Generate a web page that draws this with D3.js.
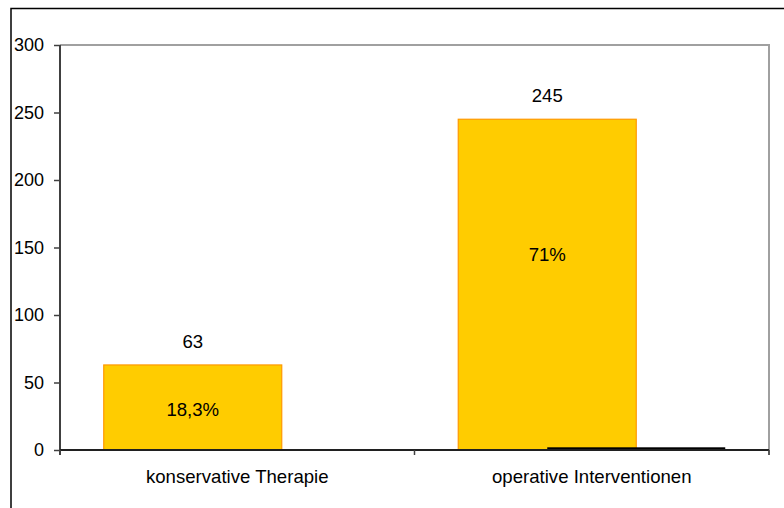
<!DOCTYPE html>
<html><head><meta charset="utf-8">
<script src="https://cdn.jsdelivr.net/npm/d3@7"></script>
<style>body{margin:0;background:#fff}svg{display:block;font-family:"Liberation Sans",Arial,sans-serif}</style>
</head><body>
<script>
const categories = ["konservative Therapie", "operative Interventionen"];
const seriesMain = [63, 245];
const seriesSecond = [0, 2];
const percentLabels = ["18,3%", "71%"];
const percentLabelAt = [25, 140];
const yTicks = [0, 50, 100, 150, 200, 250, 300];

const W = 784, H = 508;
const FS = 18.6;
const svg = d3.select("body").append("svg").attr("width", W).attr("height", H);

// outer frame (right/bottom edges beyond view)
svg.append("path").attr("d", "M11,520V8.5H800").attr("fill", "none").attr("stroke", "#000").attr("stroke-width", 1.5);

const L = 60, R = 769, T = 45, B = 450;
const x = d3.scaleBand().domain(categories).range([L, R]);
const y = d3.scaleLinear().domain([0, 300]).range([B, T]);

// plot border top/right
svg.append("path").attr("d", `M${L},${T}H${R}V${B + 5}`).attr("fill", "none").attr("stroke", "#a0a0a0").attr("stroke-width", 2);

const bw = 178;
const offset = 44.5;
const g = svg.append("g");
g.selectAll("rect.main").data(categories).join("rect")
  .attr("x", d => x(d) + x.bandwidth() / 2 - offset - bw / 2)
  .attr("y", (d, i) => y(seriesMain[i]))
  .attr("width", bw)
  .attr("height", (d, i) => y(0) - y(seriesMain[i]))
  .attr("fill", "#FFCC00").attr("stroke", "#FF9900").attr("stroke-width", 1.2);
g.selectAll("rect.second").data(categories).join("rect")
  .attr("x", d => x(d) + x.bandwidth() / 2 + offset - bw / 2)
  .attr("y", (d, i) => y(seriesSecond[i]))
  .attr("width", bw)
  .attr("height", (d, i) => y(0) - y(seriesSecond[i]))
  .attr("fill", "#000");

// y axis
const ya = svg.append("g").attr("transform", `translate(${L},0)`)
  .call(d3.axisLeft(y).tickValues(yTicks).tickSize(6).tickPadding(10));
ya.select(".domain").attr("d", `M0,${T}V${B + 5}`).attr("stroke", "#404040").attr("stroke-width", 2);
ya.selectAll(".tick line").attr("stroke", "#404040").attr("stroke-width", 1.5);
ya.selectAll("text").attr("font-size", 18).attr("fill", "#000").attr("font-family", "Liberation Sans, Arial, sans-serif");

// x axis
const xa = svg.append("g").attr("transform", `translate(0,${B})`)
  .call(d3.axisBottom(x).tickSize(0).tickPadding(20));
xa.select(".domain").attr("d", `M${L},0H${R}`).attr("stroke", "#202020").attr("stroke-width", 2);
xa.selectAll("text").attr("font-size", FS).attr("fill", "#000").attr("font-family", "Liberation Sans, Arial, sans-serif");
svg.append("g").selectAll("line").data([L, (L + R) / 2, R]).join("line")
  .attr("x1", d => d).attr("x2", d => d).attr("y1", B).attr("y2", B + 5)
  .attr("stroke", "#404040").attr("stroke-width", 1.5);

// value labels
const cx = d => x(d) + x.bandwidth() / 2 - offset;
svg.append("g").selectAll("text").data(categories).join("text")
  .attr("x", cx).attr("y", (d, i) => y(seriesMain[i]) - 17)
  .attr("text-anchor", "middle").attr("font-size", FS).text((d, i) => seriesMain[i]);
svg.append("g").selectAll("text").data(categories).join("text")
  .attr("x", cx).attr("y", (d, i) => y(percentLabelAt[i]))
  .attr("text-anchor", "middle").attr("font-size", FS).text((d, i) => percentLabels[i]);
</script>
</body></html>
